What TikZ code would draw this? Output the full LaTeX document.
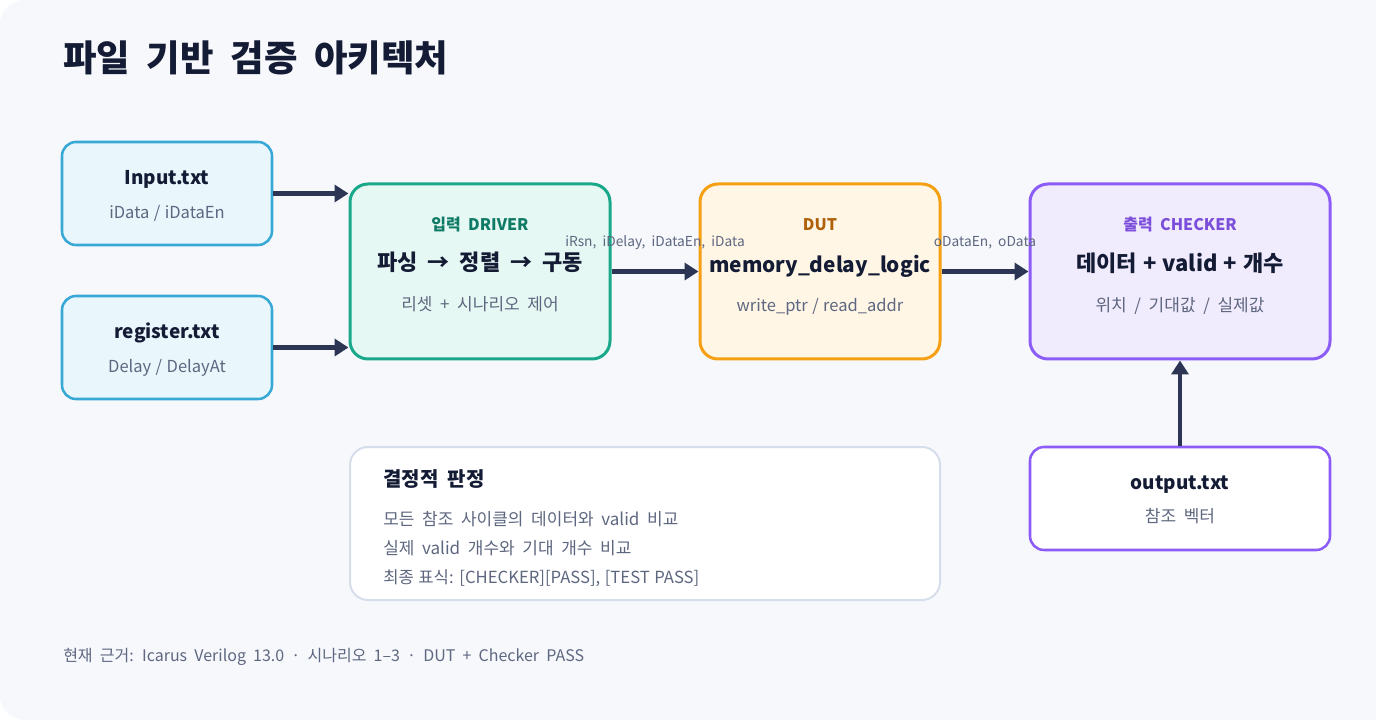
\documentclass[tikz,border=0pt]{standalone}
\usepackage{fontspec}
\setmainfont{Noto Sans CJK KR}[WordSpace=2]
\newfontfamily\latfont{Noto Sans CJK KR}[WordSpace=1.2]
\usetikzlibrary{arrows.meta, positioning}
\definecolor{hinter}{HTML}{F6F8FC}
\definecolor{tinte}{HTML}{141B34}
\definecolor{grau}{HTML}{5E6780}
\definecolor{pfeil}{HTML}{2C3654}
\definecolor{blaurand}{HTML}{38A8D5}
\definecolor{blaufuell}{HTML}{E9F7FC}
\definecolor{gruenrand}{HTML}{19A98A}
\definecolor{gruenfuell}{HTML}{E6F8F3}
\definecolor{gruentext}{HTML}{0F7A65}
\definecolor{orangerand}{HTML}{F5A012}
\definecolor{orangefuell}{HTML}{FFF6E6}
\definecolor{orangetext}{HTML}{B1600A}
\definecolor{lilarand}{HTML}{8B5CF6}
\definecolor{lilafuell}{HTML}{F1EBFE}
\definecolor{lilatext}{HTML}{7C4FDB}
\definecolor{urteilrand}{HTML}{D6DEEC}

\begin{document}
\begin{tikzpicture}[x=0.75pt, y=-0.75pt,
    datei/.style={draw, rounded corners=10.5pt, line width=1.9pt, inner sep=0pt,
                  minimum width=157.5pt, minimum height=77.25pt},
    block/.style={draw, rounded corners=13.5pt, line width=2.25pt, inner sep=0pt,
                  minimum height=131.25pt},
    kopf/.style={anchor=base, font=\bfseries\fontsize{14.2}{17}\selectfont, text=tinte},
    haupt/.style={anchor=base, font=\bfseries\fontsize{16.5}{20}\selectfont, text=tinte},
    marke/.style={anchor=base, font=\bfseries\fontsize{12}{14}\selectfont},
    klein/.style={anchor=base, font=\fontsize{12.75}{15}\selectfont, text=grau},
    kleinlat/.style={klein, font=\latfont\fontsize{12.4}{15}\selectfont},
    zeile/.style={anchor=base west, inner sep=0pt, font=\fontsize{12.75}{15}\selectfont, text=grau},
    signal/.style={font=\fontsize{10.3}{12}\selectfont, text=grau, yshift=21.75pt},
    fluss/.style={-{Triangle[length=10.5pt, width=12.75pt]}, line width=3.2pt, draw=pfeil}]

  % --- Hintergrund ---
  \useasboundingbox (0,0) rectangle (1400,720);
  \fill[hinter, rounded corners=18pt] (1376,0) -- (0,0) -- (0,720) -- (1376,720);

  % --- Titel ---
  \node[anchor=base west, inner sep=0pt, font=\bfseries\fontsize{27.3}{32}\selectfont, text=tinte] (titel) at (63,72) {파일 기반 검증 아키텍처};

  % --- Eingabedateien ---
  \node[datei, draw=blaurand, fill=blaufuell] (inp) at (167,193.5) {};
  \node[kopf] (inpname) at (167,185) {Input.txt};
  \node[kleinlat] (inpsig) at (167,219) {iData / iDataEn};

  \node[datei, draw=blaurand, fill=blaufuell] (reg) at (167,347.5) {};
  \node[kopf] (regname) at (167,339) {register.txt};
  \node[kleinlat] (regsig) at (167,373) {Delay / DelayAt};

  % --- Driver ---
  \node[block, draw=gruenrand, fill=gruenfuell, minimum width=195pt] (drv) at (480,271.5) {};
  \node[marke, text=gruentext] (drvmarke) at (480,231) {입력 DRIVER};
  \node[haupt] (drvhaupt) at (480,271) {파싱 → 정렬 → 구동};
  \node[klein] (drvklein) at (480,311) {리셋 + 시나리오 제어};

  % --- DUT ---
  \node[block, draw=orangerand, fill=orangefuell, minimum width=180pt] (dut) at (820,271.5) {};
  \node[marke, text=orangetext] (dutmarke) at (820,231) {DUT};
  \node[haupt, font=\bfseries\fontsize{15.6}{20}\selectfont] (duthaupt) at (820,273) {memory\_delay\_logic};
  \node[kleinlat] (dutklein) at (820,312) {write\_ptr / read\_addr};

  % --- Checker ---
  \node[block, draw=lilarand, fill=lilafuell, minimum width=225pt] (chk) at (1180,271.5) {};
  \node[marke, text=lilatext] (chkmarke) at (1180,231) {출력 CHECKER};
  \node[haupt, font=\latfont\bfseries\fontsize{16.5}{20}\selectfont] (chkhaupt) at (1180,272) {데이터 + valid + 개수};
  \node[klein] (chkklein) at (1180,312) {위치 / 기대값 / 실제값};

  % --- Referenzdatei ---
  \node[datei, draw=lilarand, fill=white, minimum width=225pt] (out) at (1180,498.5) {};
  \node[kopf] (outname) at (1180,489) {output.txt};
  \node[klein] (outsig) at (1180,522) {참조 벡터};

  % --- Pfeile ---
  \draw[fluss] (inp.east) -- (inp.east -| drv.west);
  \draw[fluss] (reg.east) -- (reg.east -| drv.west);
  \draw[fluss] (drv.east) -- node[signal] {iRsn, iDelay, iDataEn, iData} (dut.west);
  \draw[fluss] (dut.east) -- node[signal] {oDataEn, oData} (chk.west);
  \draw[fluss] (out.north) -- (chk.south);

  % --- Urteil ---
  \node[draw=urteilrand, fill=white, rounded corners=13.5pt, line width=1.5pt, inner sep=0pt,
        minimum width=442.5pt, minimum height=114.75pt] (urteil) at (645,523.5) {};
  \node[anchor=base west, inner sep=0pt, font=\bfseries\fontsize{15}{18}\selectfont, text=tinte] (urteilkopf) at (383,486) {결정적 판정};
  \node[zeile] (zeile1) at (383,525.5) {모든 참조 사이클의 데이터와 valid 비교};
  \node[zeile] (zeile2) at (383,554.5) {실제 valid 개수와 기대 개수 비교};
  \node[zeile, font=\latfont\fontsize{12.5}{15}\selectfont] (zeile3) at (383,583.5) {최종 표식: [CHECKER][PASS], [TEST PASS]};

  % --- Fusszeile ---
  \node[anchor=base west, inner sep=0pt, font=\fontsize{12}{14}\selectfont, text=grau] (fuss) at (63,661.5) {현재 근거: Icarus Verilog 13.0 · 시나리오 1–3 · DUT + Checker PASS};
\end{tikzpicture}
\end{document}
